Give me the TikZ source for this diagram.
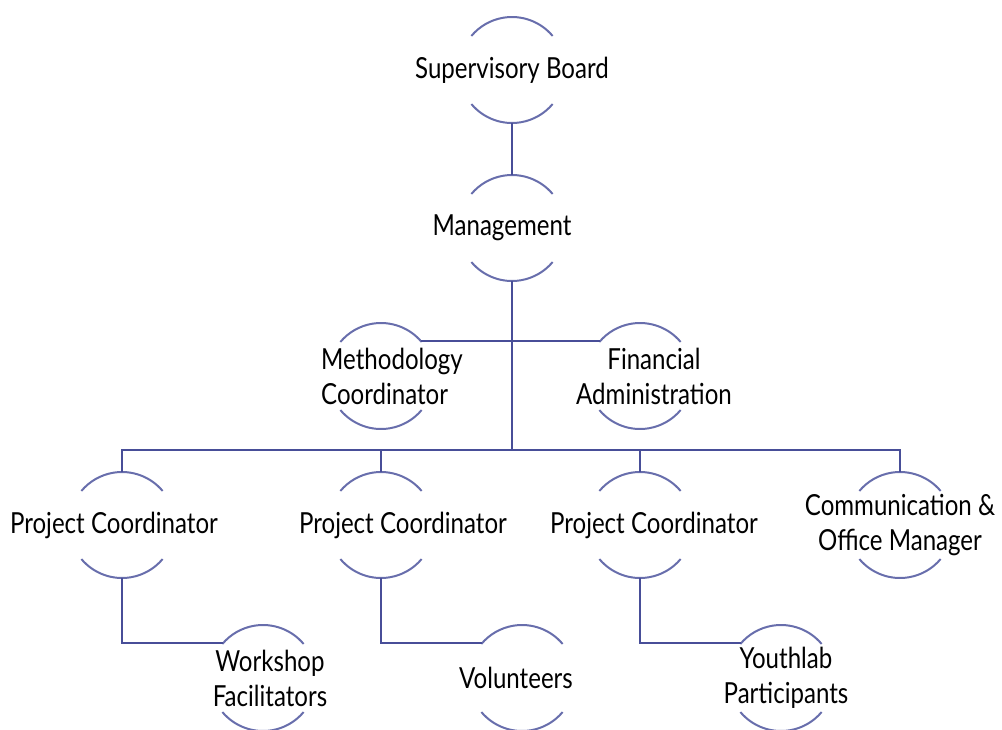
\documentclass[tikz,border=0pt]{standalone}
\usepackage{fontspec}
\setmainfont[FakeStretch=0.83]{Lato}
\usepackage{tikz}
\definecolor{orgline}{RGB}{72,78,152}
\definecolor{orgring}{RGB}{104,110,172}

\begin{document}
\begin{tikzpicture}[x=0.5pt,y=-0.5pt,
  ring/.style={circle,minimum size=53pt,inner sep=0pt,outer sep=0pt},
  roletext/.style={font=\fontsize{14.5}{17.5}\selectfont,align=center},
  link/.style={draw=orgline,line width=1pt}]
\useasboundingbox (0,0) rectangle (1002,729);

% top of the chart
\node[ring,label={[roletext]center:Supervisory Board}] (sup) at (512,70) {};
\node[ring,label={[roletext,xshift=-5pt]center:Management}] (man) at (512,228) {};
\node[ring,label={[roletext,align=left,xshift=5.5pt]center:Methodology\\Coordinator}] (meth) at (381,376) {};
\node[ring,label={[roletext,xshift=7pt]center:Financial\\Administration}] (fin) at (640,376) {};

% project row
\node[ring,label={[roletext,xshift=-4pt]center:Project Coordinator}] (pc1) at (122,525) {};
\node[ring,label={[roletext,xshift=11pt]center:Project Coordinator}] (pc2) at (381,525) {};
\node[ring,label={[roletext,xshift=7pt]center:Project Coordinator}] (pc3) at (640,525) {};
\node[ring,label={[roletext]center:Communication \&\\Office Manager}] (comm) at (900,525) {};

% bottom row
\node[ring,label={[roletext,xshift=3.5pt]center:Workshop\\Facilitators}] (work) at (263,678) {};
\node[ring,label={[roletext,xshift=-3pt]center:Volunteers}] (vol) at (522,678) {};
\node[ring,label={[roletext,xshift=2.5pt]center:Youthlab\\Participants}] (youth) at (781,678) {};

\foreach \n in {sup,man,meth,fin,pc1,pc2,pc3,comm,work,vol,youth}
  \draw[orgring,line width=1pt] (\n.40) arc[start angle=40,end angle=140,radius=26.5pt]
    (\n.220) arc[start angle=220,end angle=320,radius=26.5pt];

\coordinate (bus) at (512,450);
\draw[link] (sup.south) -- (man.north);
\draw[link] (man.south) -- (bus);
\draw[link] (meth.41) -- (fin.139);
\draw[link] (pc1.north) |- (bus) -| (comm.north);
\draw[link] (pc2.north) -- (pc2.north |- bus);
\draw[link] (pc3.north) -- (pc3.north |- bus);
\draw[link] (pc1.south) |- (work.139);
\draw[link] (pc2.south) |- (vol.139);
\draw[link] (pc3.south) |- (youth.139);
\end{tikzpicture}
\end{document}
